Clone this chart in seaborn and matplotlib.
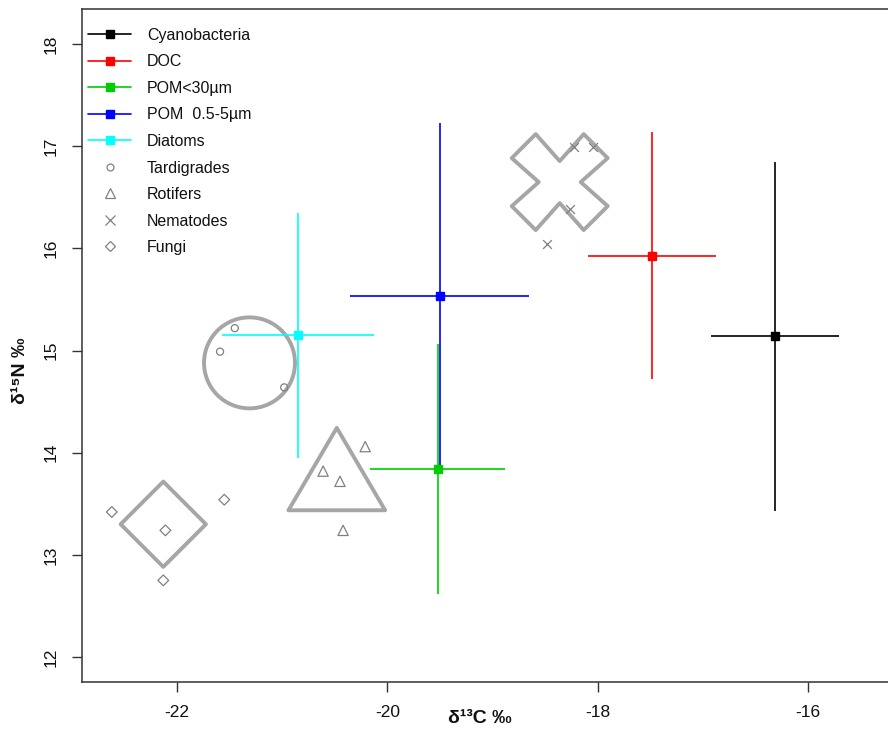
import numpy as np
import pandas as pd
import matplotlib
matplotlib.use("Agg")
import matplotlib.pyplot as plt
from matplotlib.path import Path
from matplotlib.lines import Line2D
import seaborn as sns

#----------------- datos ----------------------------------------------
# fuentes (media +/- error)
fuentes = ["Cyanobacteria", "DOC", "POM<30µm", "POM  0.5-5µm", "Diatoms"]
colores_fuente = ["#000000", "#ff0000", "#00cd00", "#0000ff", "#00ffff"]
d13c_fuente = [-16.31, -17.48, -19.52, -19.50, -20.85]
d15n_fuente = [15.14, 15.93, 13.84, 15.53, 15.15]
err_c_fuente = [0.61, 0.61, 0.64, 0.85, 0.72]
err_n_fuente = [1.71, 1.21, 1.22, 1.70, 1.20]

# consumidores (puntos individuales)
tard_c = [-21.45, -21.59, -20.98]
tard_n = [15.22, 14.99, 14.64]
rot_c = [-20.21, -20.61, -20.45, -20.42]
rot_n = [14.06, 13.82, 13.72, 13.24]
nem_c = [-18.22, -18.04, -18.26, -18.48]
nem_n = [16.99, 16.99, 16.39, 16.04]
fung_c = [-22.62, -22.11, -21.55, -22.13]
fung_n = [13.42, 13.24, 13.54, 12.75]

# centro de cada grupo (simbolo grande)
grupos = ["Tardigrades", "Rotifers", "Nematodes", "Fungi"]
centro_c = [-21.31, -20.48, -18.36, -22.13]
centro_n = [14.88, 13.84, 16.65, 13.30]

#----------------- estilo ---------------------------------------------
sns.set_theme(style="white")
plt.rcParams['font.family'] = ['Liberation Sans', 'DejaVu Sans']
plt.rcParams['axes.unicode_minus'] = False
plt.rcParams['text.color'] = '#111111'
plt.rcParams['axes.labelcolor'] = '#111111'
plt.rcParams['xtick.color'] = '#111111'
plt.rcParams['ytick.color'] = '#111111'

gris = "#a6a6a6"
gris_pto = "#808080"

def marcador(v):
    v = np.asarray(v, dtype=float)
    return Path(np.vstack([v, v[:1]]), closed=True)

triangulo = marcador([(0, 0.852), (-1, -0.852), (1, -0.852)])
rombo = marcador([(0, 1), (1, 0), (0, -1), (-1, 0)])
cruz = marcador([(0, 21), (24, 48), (48, 24), (21, 0), (48, -24), (24, -48),
                 (0, -21), (-24, -48), (-48, -24), (-21, 0), (-48, 24), (-24, 48)])
marcas_grandes = ["o", triangulo, cruz, rombo]
tam_grandes = [4290, 4844, 4775, 3770]

fig = plt.figure(figsize=(8.88, 7.31), dpi=100)
ax = fig.add_axes([82/888, (731-681.5)/731, (900-82)/888, 672.5/731])

#----------------- simbolos grandes -----------------------------------
for i in range(len(grupos)):
    sns.scatterplot(x=[centro_c[i]], y=[centro_n[i]], marker=marcas_grandes[i],
                    s=tam_grandes[i], facecolor="none", edgecolor=gris,
                    linewidth=2.8, legend=False, ax=ax, zorder=2)

#----------------- puntos de consumidores -----------------------------
df_cons = pd.concat([
    pd.DataFrame({"c": tard_c, "n": tard_n, "g": "Tardigrades"}),
    pd.DataFrame({"c": rot_c, "n": rot_n, "g": "Rotifers"}),
    pd.DataFrame({"c": nem_c, "n": nem_n, "g": "Nematodes"}),
    pd.DataFrame({"c": fung_c, "n": fung_n, "g": "Fungi"}),
])
marcas_peq = {"Tardigrades": ("o", 26), "Rotifers": ("^", 55),
              "Nematodes": ("x", 40), "Fungi": ("D", 30)}
for g, sub in df_cons.groupby("g"):
    m, s = marcas_peq[g]
    if m == "x":
        sns.scatterplot(data=sub, x="c", y="n", marker=m, s=s, color=gris_pto,
                        linewidth=0.9, legend=False, ax=ax, zorder=3)
    else:
        sns.scatterplot(data=sub, x="c", y="n", marker=m, s=s, facecolor="none",
                        edgecolor=gris_pto, linewidth=0.9, legend=False, ax=ax, zorder=3)

#----------------- fuentes con barras de error ------------------------
for i in range(len(fuentes)):
    ax.errorbar(d13c_fuente[i], d15n_fuente[i], xerr=err_c_fuente[i], yerr=err_n_fuente[i],
                fmt="s", color=colores_fuente[i], ms=6, elinewidth=1.2, capsize=0, zorder=4)

#----------------- ejes -----------------------------------------------
ax.set_xlim(-22.903, -15.124)
ax.set_ylim(11.76, 18.345)
ax.set_xticks([-22, -20, -18, -16])
ax.set_yticks([12, 13, 14, 15, 16, 17, 18])
ax.tick_params(axis='both', direction='out', length=7, width=1, color='#333333',
               labelsize=12.5, pad=10, bottom=True, left=True)
ax.tick_params(axis='y', labelrotation=90)
for lab in ax.get_yticklabels():
    lab.set_va('center')
for sp in ax.spines.values():
    sp.set_color('#333333')
    sp.set_linewidth(1.1)

ax.set_xlabel("δ¹³C ‰", fontweight='bold', fontsize=14)
ax.set_ylabel("δ¹⁵N ‰", fontweight='bold', fontsize=14)
ax.xaxis.set_label_coords((480-82)/818, (681.5-710)/672.5)
ax.yaxis.set_label_coords((29-82)/818, (681.5-371)/672.5)

#----------------- leyenda --------------------------------------------
handles = [Line2D([0], [0], color=c, lw=1.2, marker='s', ms=6) for c in colores_fuente]
handles += [
    Line2D([0], [0], ls='none', marker='o', ms=5, mfc='none', mec=gris_pto, mew=0.9),
    Line2D([0], [0], ls='none', marker='^', ms=7.5, mfc='none', mec=gris_pto, mew=0.9),
    Line2D([0], [0], ls='none', marker='x', ms=6.5, color=gris_pto, mew=0.9),
    Line2D([0], [0], ls='none', marker='D', ms=5.5, mfc='none', mec=gris_pto, mew=0.9),
]
labels = fuentes + grupos
ax.legend(handles, labels, loc='upper left', bbox_to_anchor=(88/888, 1-28/731),
          bbox_transform=fig.transFigure, frameon=False, fontsize=11.5,
          borderpad=0, borderaxespad=0, handlelength=2.7, handletextpad=1.0,
          labelspacing=0.72)

plt.savefig("out.png", dpi=100)
